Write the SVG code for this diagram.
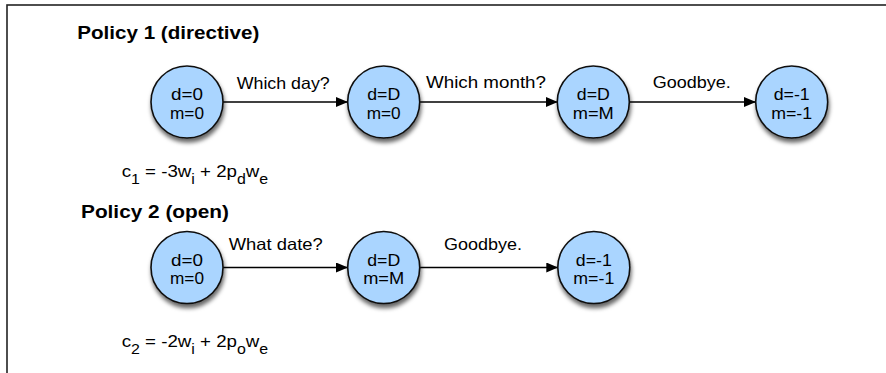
<svg xmlns="http://www.w3.org/2000/svg" width="886" height="373" viewBox="0 0 886 373">
<style>
  text { font-family: "Liberation Sans", Arial, Helvetica, sans-serif; fill: #000; }
  .title { font-size: 18.5px; font-weight: bold; }
  .lbl { font-size: 16.5px; }
  .node circle { fill: #aad5ff; stroke: #111; stroke-width: 1.6; filter: url(#shadow); }
  .node text { font-size: 16.3px; text-anchor: middle; }
  .edge { stroke: #000; stroke-width: 1.3; fill: none; marker-end: url(#arr); }
  .frm { font-size: 17px; }
  .sub { font-size: 14.5px; }
</style>
<defs>
  <filter id="shadow" x="-30%" y="-30%" width="160%" height="170%">
    <feDropShadow dx="1" dy="4" stdDeviation="2" flood-color="#000" flood-opacity="0.6"/>
  </filter>
  <marker id="arr" markerWidth="12" markerHeight="10" refX="12" refY="5" orient="auto" markerUnits="userSpaceOnUse">
    <path d="M0,0 L12,5 L0,10 z" fill="#000"/>
  </marker>
</defs>
<rect x="7" y="5" width="900" height="400" fill="#fff" stroke="#222" stroke-width="1.6"/>

<text class="title" x="77.3" y="39.3" textLength="182" lengthAdjust="spacingAndGlyphs">Policy 1 (directive)</text>
<text class="title" x="81" y="218.3" textLength="148" lengthAdjust="spacingAndGlyphs">Policy 2 (open)</text>

<g id="connectors">
  <line class="edge" x1="222.5" y1="102" x2="348" y2="102"/>
  <line class="edge" x1="419.2" y1="102" x2="557.8" y2="102"/>
  <line class="edge" x1="629" y1="102" x2="756" y2="102"/>
  <line class="edge" x1="222.5" y1="267.5" x2="348" y2="267.5"/>
  <line class="edge" x1="419.2" y1="267.5" x2="558.3" y2="267.5"/>
  <text class="lbl" x="236.7" y="88.5" textLength="93" lengthAdjust="spacingAndGlyphs">Which day?</text>
  <text class="lbl" x="426" y="88" textLength="120" lengthAdjust="spacingAndGlyphs">Which month?</text>
  <text class="lbl" x="652.7" y="88" textLength="78" lengthAdjust="spacingAndGlyphs">Goodbye.</text>
  <text class="lbl" x="228.7" y="249.5" textLength="94" lengthAdjust="spacingAndGlyphs">What date?</text>
  <text class="lbl" x="444" y="250" textLength="78" lengthAdjust="spacingAndGlyphs">Goodbye.</text>
</g>

<g id="p1n1" class="node"><circle cx="187" cy="102" r="36"/>
  <text x="187" y="100.3" textLength="32" lengthAdjust="spacingAndGlyphs">d=0</text>
  <text x="187" y="118.7" textLength="34" lengthAdjust="spacingAndGlyphs">m=0</text></g>
<g id="p1n2" class="node"><circle cx="383.7" cy="102" r="36"/>
  <text x="383.7" y="100.3" textLength="33" lengthAdjust="spacingAndGlyphs">d=D</text>
  <text x="383.7" y="118.7" textLength="34" lengthAdjust="spacingAndGlyphs">m=0</text></g>
<g id="p1n3" class="node"><circle cx="593.3" cy="102" r="36"/>
  <text x="593.3" y="100.3" textLength="33" lengthAdjust="spacingAndGlyphs">d=D</text>
  <text x="593.3" y="118.7" textLength="41" lengthAdjust="spacingAndGlyphs">m=M</text></g>
<g id="p1n4" class="node"><circle cx="791.7" cy="102" r="36"/>
  <text x="791.7" y="100.3" textLength="36" lengthAdjust="spacingAndGlyphs">d=-1</text>
  <text x="791.7" y="118.7" textLength="41" lengthAdjust="spacingAndGlyphs">m=-1</text></g>

<g id="p2n1" class="node"><circle cx="187" cy="267.5" r="36"/>
  <text x="187" y="265.8" textLength="32" lengthAdjust="spacingAndGlyphs">d=0</text>
  <text x="187" y="284.2" textLength="34" lengthAdjust="spacingAndGlyphs">m=0</text></g>
<g id="p2n2" class="node"><circle cx="383.7" cy="267.5" r="36"/>
  <text x="383.7" y="265.8" textLength="33" lengthAdjust="spacingAndGlyphs">d=D</text>
  <text x="383.7" y="284.2" textLength="41" lengthAdjust="spacingAndGlyphs">m=M</text></g>
<g id="p2n3" class="node"><circle cx="593.8" cy="267.5" r="36"/>
  <text x="593.8" y="265.8" textLength="36" lengthAdjust="spacingAndGlyphs">d=-1</text>
  <text x="593.8" y="284.2" textLength="41" lengthAdjust="spacingAndGlyphs">m=-1</text></g>

<g id="formula1" transform="translate(121.7,177) scale(1.1,1)">
  <text class="frm" x="0" y="0">c<tspan class="sub" dy="6.5">1</tspan><tspan dy="-6.5"> = -3w</tspan><tspan class="sub" dy="6.5">i</tspan><tspan dy="-6.5"> + 2p</tspan><tspan class="sub" dy="6.5">d</tspan><tspan dy="-6.5">w</tspan><tspan class="sub" dy="6.5">e</tspan></text>
</g>
<g id="formula2" transform="translate(121.7,347.3) scale(1.1,1)">
  <text class="frm" x="0" y="0">c<tspan class="sub" dy="6.5">2</tspan><tspan dy="-6.5"> = -2w</tspan><tspan class="sub" dy="6.5">i</tspan><tspan dy="-6.5"> + 2p</tspan><tspan class="sub" dy="6.5">o</tspan><tspan dy="-6.5">w</tspan><tspan class="sub" dy="6.5">e</tspan></text>
</g>
</svg>
